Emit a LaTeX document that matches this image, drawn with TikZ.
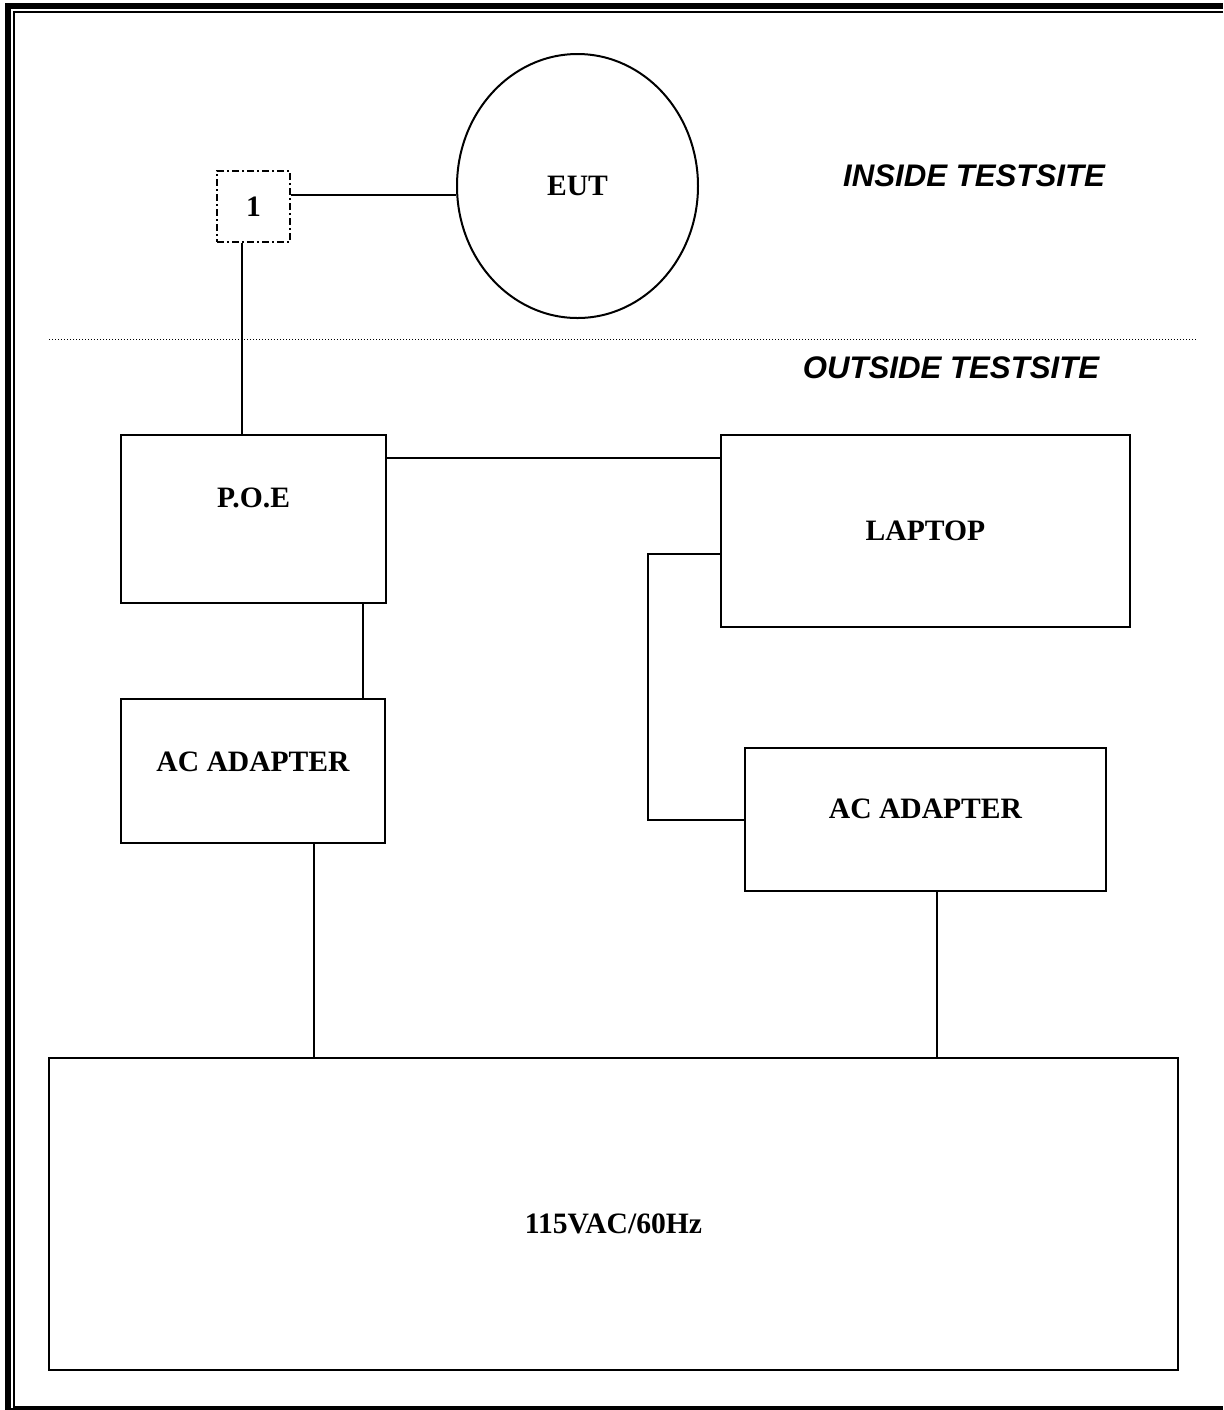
\documentclass[tikz,border=0pt]{standalone}
\usepackage{fontspec}
\setmainfont{Liberation Serif}
\newfontfamily\arialfont{Liberation Sans}
\usetikzlibrary{shapes,positioning}

\begin{document}
\begin{tikzpicture}[
    x=0.5pt, y=-0.5pt,
    unit/.style={rectangle, draw, line width=1pt, inner sep=0pt, font=\fontsize{14.8}{17}\selectfont\bfseries},
    unitname/.style={inner sep=0pt, font=\fontsize{14.8}{17}\selectfont\bfseries},
    site/.style={inner sep=0pt, font=\arialfont\fontsize{15.6}{18}\selectfont\bfseries\itshape},
    wire/.style={line width=1pt}
]
    \useasboundingbox (0,0) rectangle (1223,1410);
    \draw[line width=3pt] (1223,6) -- (8,6) -- (8,1411) -- (1223,1411);
    \draw[line width=1pt] (1223,12) -- (14,12) -- (14,1407) -- (1223,1407);

    \node[unit, ellipse, minimum width=120.5pt, minimum height=132pt] (eut) at (577.5,186) {EUT};
    \node[unit, dash pattern=on 3.5pt off 1.5pt on 1pt off 1.5pt, minimum width=36.5pt, minimum height=35.5pt] (port) at (253.5,206.5) {1};
    \node[unit, minimum width=132.5pt, minimum height=84pt, label={[unitname, yshift=10.5pt]center:P.O.E}] (poe) at (253.5,519) {};
    \node[unit, minimum width=204.5pt, minimum height=96pt, label={[unitname]center:LAPTOP}] (laptop) at (925.5,531) {};
    \node[unit, minimum width=132pt, minimum height=72pt, label={[unitname, yshift=4.5pt]center:AC ADAPTER}] (acl) at (253,771) {};
    \node[unit, minimum width=180.5pt, minimum height=71.5pt, label={[unitname, yshift=5.25pt]center:AC ADAPTER}] (acr) at (925.5,819.5) {};
    \node[unit, minimum width=564.5pt, minimum height=156pt, label={[unitname, yshift=-5pt]center:115VAC/60Hz}] (mains) at (613.5,1214) {};

    \node[site] (inside) at (974,176) {INSIDE TESTSITE};
    \node[site] (outside) at (951,367.5) {OUTSIDE TESTSITE};

    \coordinate (fence-w) at (49,339);
    \coordinate (fence-e) at (1198,339);
    \draw[line width=0.5pt, dash pattern=on 0.5pt off 1pt] (fence-w) -- (fence-e);

    \coordinate (tap) at ([yshift=5.75pt]port.east);
    \coordinate (drop) at ([xshift=-6pt]port.south);
    \coordinate (lan) at ([yshift=-12pt]poe.north east);
    \coordinate (feed) at ([xshift=-12pt]poe.south east);
    \coordinate (chg) at ([yshift=-60pt]laptop.north west);
    \coordinate (plug-l) at ([xshift=30.5pt]acl.south);
    \coordinate (plug-r) at ([xshift=5.75pt]acr.south);

    \draw[wire] (tap) -- (tap -| eut.west);
    \draw[wire] (drop) -- (drop |- poe.north);
    \draw[wire] (lan) -- (lan -| laptop.west);
    \draw[wire] (feed) -- (feed |- acl.north);
    \draw[wire] (chg) -- ++(-72,0) |- (acr.west);
    \draw[wire] (plug-l) -- (plug-l |- mains.north);
    \draw[wire] (plug-r) -- (plug-r |- mains.north);
\end{tikzpicture}
\end{document}
